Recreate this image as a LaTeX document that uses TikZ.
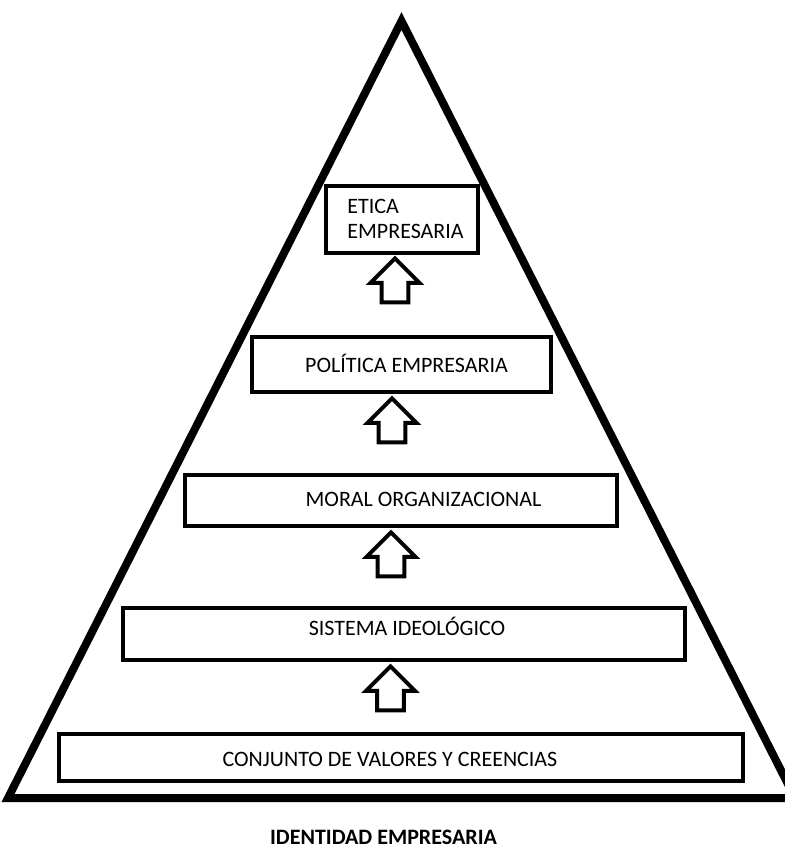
\documentclass[tikz,border=0pt]{standalone}
\usepackage{fontspec}
\setmainfont{Carlito}
\usetikzlibrary{shapes.arrows}

\begin{document}
\begin{tikzpicture}[x=.5pt, y=-.5pt,
	caja/.style={draw, line width=2pt, inner sep=0pt},
	texto/.style={anchor=base, inner sep=0pt, font=\fontsize{11}{12.5}\selectfont},
	flecha/.style={draw, line width=2pt, single arrow, single arrow head extend=5.5pt, minimum height=22pt, minimum width=24.5pt, inner xsep=0pt, inner ysep=5.5pt, rotate=90}]

\clip (0,0) rectangle (785,847);

\draw[line width=4pt, line join=miter] (401.5,21) -- (795,798) -- (8,798) -- cycle;

\node[caja, minimum width=76pt, minimum height=33.5pt] (etica) at (401.5,219) {};
\node[caja, minimum width=149.5pt, minimum height=27.5pt] (politica) at (401.5,364.5) {};
\node[caja, minimum width=216pt, minimum height=25.5pt] (moral) at (401,500.5) {};
\node[caja, minimum width=281pt, minimum height=26pt] (sistema) at (404,634) {};
\node[caja, minimum width=342pt, minimum height=23.5pt] (conjunto) at (401,757.5) {};

\node[texto, anchor=north west, align=left] (etica-t) at (347,199) {ETICA\\EMPRESARIA};
\node[texto] (politica-t) at (406.5,372) {POLÍTICA EMPRESARIA};
\node[texto] (moral-t) at (423.5,506) {MORAL ORGANIZACIONAL};
\node[texto] (sistema-t) at (407,635) {SISTEMA IDEOLÓGICO};
\node[texto] (conjunto-t) at (390,766) {CONJUNTO DE VALORES Y CREENCIAS};

\foreach \x/\y [count=\i] in {395/287, 392/427, 391/561, 390.5/695}
	\node[flecha] (flecha\i) at (\x,\y) {};

\node[texto, font=\fontsize{11}{12.5}\selectfont\bfseries] (titulo) at (383.5,844) {IDENTIDAD EMPRESARIA};

\end{tikzpicture}
\end{document}
